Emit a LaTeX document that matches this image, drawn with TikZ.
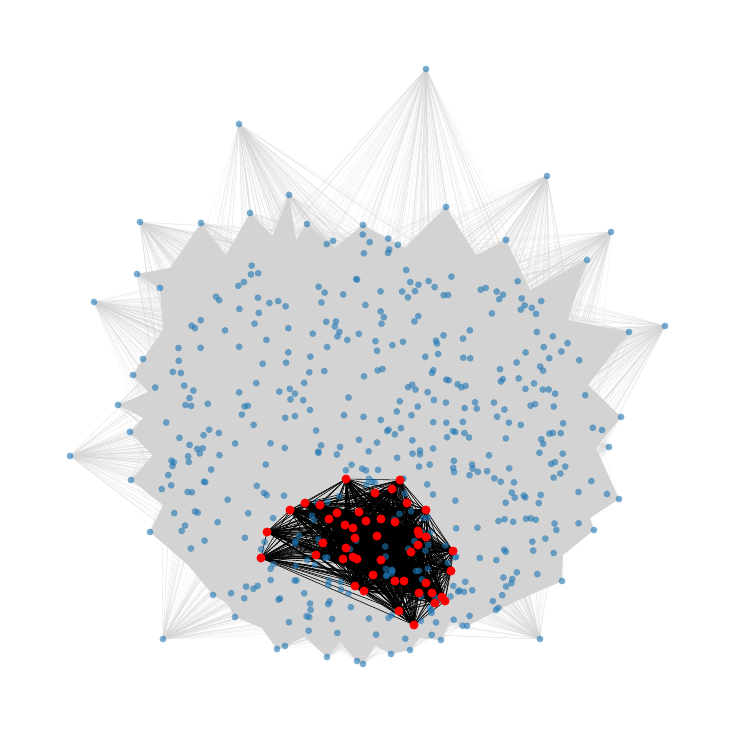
\documentclass[tikz,border=0pt]{standalone}
\usetikzlibrary{calc}
\definecolor{edgegray}{RGB}{211,211,211}
\definecolor{tabblue}{RGB}{31,119,180}
\definecolor{hubred}{RGB}{255,0,0}
\pgfdeclarelayer{fans}
\pgfdeclarelayer{links}
\pgfsetlayers{fans,links,main}
\tikzset{
    bluedot/.style={circle, fill=tabblue, fill opacity=0.6, inner sep=0pt, minimum size=6.8pt},
    hub/.style={circle, fill=hubred, inner sep=0pt, minimum size=9pt},
    fanline/.style={draw=edgegray, line width=0.3pt, draw opacity=0.4},
    cliqueline/.style={draw=black, line width=0.6pt}
}

\begin{document}
\begin{tikzpicture}[x=1pt, y=-1pt]
\useasboundingbox (0,0) rectangle (734,734);
\pgfmathsetseed{4242}

% ===============================================================
% ==== Inner nodes ====
% ===============================================================
\foreach \i in {1,...,430}{
    \pgfmathsetmacro{\ang}{360*rnd}
    \pgfmathsetmacro{\rad}{sqrt(rnd)}
    \node[bluedot] (b\i) at ({374+228*\rad*cos(\ang)},{438+205*\rad*sin(\ang)}) {};
}

% === outer ring (tips of the blob) ===
\foreach \x/\y [count=\i] in {137/274, 201/223, 250/213, 289/195, 307/224, 363/225, 446/207,
    506/240, 587/260, 629/332, 621/417, 602/430, 609/447, 607/494, 619/499, 594/530, 562/581,
    467/626, 441/640, 410/650, 391/654, 363/664, 357/661, 327/657, 285/646, 277/649, 235/617,
    213/595, 150/532, 131/480, 130/432, 118/405, 133/375, 143/359, 160/288}
    \node[bluedot] (o\i) at (\x,\y) {};

% === far nodes ===
\foreach \x/\y [count=\i] in {426/69, 239/124, 547/176, 611/232, 665/326, 70/456, 163/639,
    540/639, 94/302, 140/222}
    \node[bluedot] (f\i) at (\x,\y) {};

% ===============================================================
% ==== Red clique ====
% ===============================================================
\foreach \x/\y [count=\i] in {346/479, 400/480, 375/493, 392/489, 305/503, 320/505, 290/510,
    407/503, 426/510, 337/513, 359/512, 329/519, 366/521, 381/519, 395/522, 345/525, 353/528,
    267/532, 418/531, 419/534, 355/538, 377/536, 426/537, 323/543, 418/545, 346/548, 411/552,
    453/551, 261/558, 316/555, 343/559, 353/557, 357/559, 381/560, 451/571, 373/575, 395/581,
    404/581, 355/586, 426/583, 364/591, 419/593, 432/593, 442/597, 435/603, 445/601, 399/611,
    414/625}
    \node[hub] (r\i) at (\x,\y) {};

% 边
\begin{pgfonlayer}{fans}
\foreach \i in {1,...,10}{
    \foreach \k in {1,...,150}{
        \pgfmathtruncatemacro{\j}{random(1,430)}
        \draw[fanline] (f\i.center) -- (b\j.center);
    }
}
\foreach \i in {1,...,35}{
    \foreach \k in {1,...,70}{
        \pgfmathtruncatemacro{\j}{random(1,430)}
        \draw[fanline] (o\i.center) -- (b\j.center);
    }
}
% dense grey body
\fill[edgegray] (137,274) -- (170,268) -- (201,223) -- (226,255) -- (250,213) -- (272,236)
    -- (289,195) -- (296,240) -- (307,224) -- (335,248) -- (363,225) -- (405,248) -- (446,207)
    -- (476,255) -- (506,240) -- (530,290) -- (587,260) -- (568,320) -- (629,332) -- (588,385)
    -- (621,417) -- (596,448) -- (619,499) -- (590,518) -- (594,530) -- (563,555) -- (562,581)
    -- (518,600) -- (467,626) -- (450,622) -- (441,640) -- (420,638) -- (410,650) -- (391,654)
    -- (375,645) -- (363,664) -- (357,661) -- (340,642) -- (327,657) -- (305,637) -- (285,646)
    -- (277,649) -- (262,628) -- (235,617) -- (227,603) -- (213,595) -- (188,565) -- (150,532)
    -- (163,505) -- (131,480) -- (153,455) -- (130,432) -- (143,418) -- (118,405) -- (148,392)
    -- (133,375) -- (143,359) -- (163,330) -- (160,288) -- cycle;
\end{pgfonlayer}

\begin{pgfonlayer}{links}
\foreach \i in {1,...,47}{
    \pgfmathtruncatemacro{\n}{\i+1}
    \foreach \j in {\n,...,48}{
        \draw[cliqueline] (r\i.center) -- (r\j.center);
    }
}
\end{pgfonlayer}

\end{tikzpicture}
\end{document}
